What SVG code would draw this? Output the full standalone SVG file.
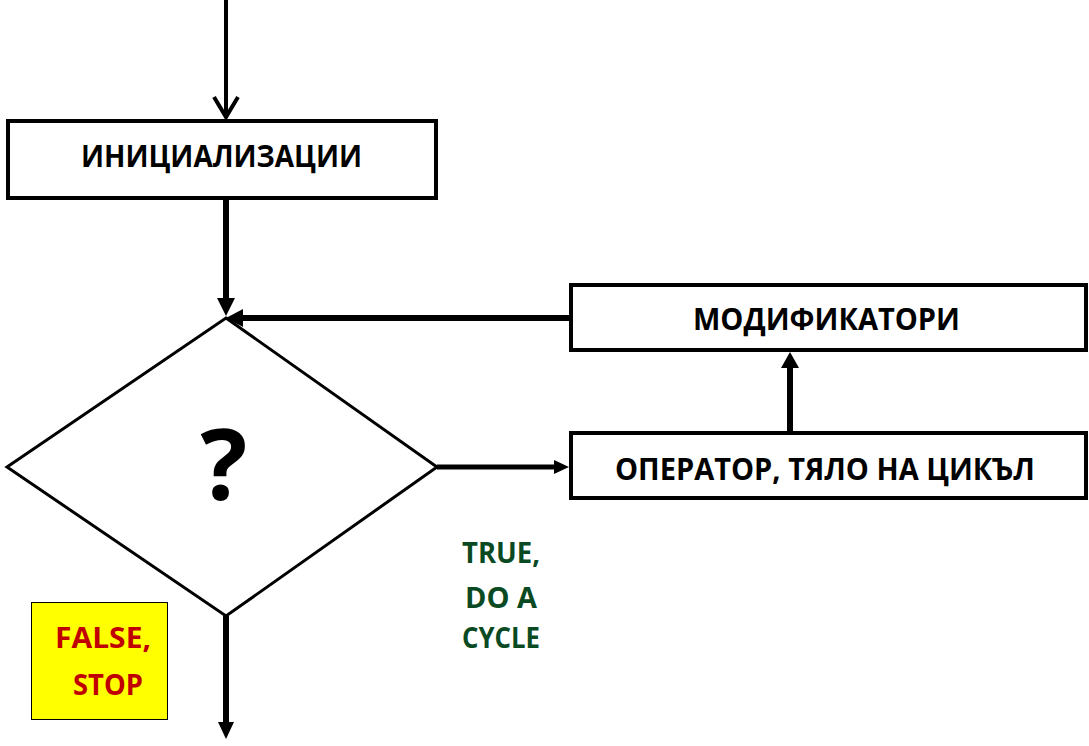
<svg xmlns="http://www.w3.org/2000/svg" width="1089" height="746" viewBox="0 0 1089 746">
<style>
.box{fill:#fff;stroke:#000;stroke-width:4}
.lbl{font-family:"Open Sans","Liberation Sans",sans-serif;font-weight:bold;font-size:30px;fill:#000}
.cond{font-family:"Open Sans","Liberation Sans",sans-serif;font-weight:bold;font-size:28px}
.ln{stroke:#000;fill:none}
.ah{fill:#000;stroke:none}
</style>
<rect width="1089" height="746" fill="#fff"/>
<g id="connectors">
<line class="ln" x1="226" y1="0" x2="226" y2="116" stroke-width="4"/>
<polyline class="ln" points="214,97 226,117 238,97" stroke-width="4"/>
<line class="ln" x1="226" y1="200" x2="226" y2="300" stroke-width="6"/>
<polygon class="ah" points="217,298 235,298 226,316"/>
<line class="ln" x1="569" y1="318" x2="241" y2="318" stroke-width="6"/>
<polygon class="ah" points="243,309 243,327 226,318"/>
<line class="ln" x1="437" y1="467" x2="556" y2="467" stroke-width="5"/>
<polygon class="ah" points="554,460 554,474 569,467"/>
<line class="ln" x1="790" y1="431" x2="790" y2="366" stroke-width="6"/>
<polygon class="ah" points="781,368 799,368 790,352"/>
<line class="ln" x1="226" y1="616" x2="226" y2="724" stroke-width="6"/>
<polygon class="ah" points="218,722 234,722 226,739"/>
</g>
<g id="init">
<rect class="box" x="8" y="121" width="428" height="77"/>
<text class="lbl" x="81" y="167" textLength="281" lengthAdjust="spacingAndGlyphs">ИНИЦИАЛИЗАЦИИ</text>
</g>
<g id="decision">
<polygon points="226,318 437,467 226,616 7,467" fill="#fff" stroke="#000" stroke-width="3"/>
<text x="224" y="500" text-anchor="middle" font-family="Open Sans, Liberation Sans, sans-serif" font-weight="bold" font-size="98">?</text>
</g>
<g id="modifiers">
<rect class="box" x="571" y="285" width="515" height="65"/>
<text class="lbl" x="693" y="330" textLength="267" lengthAdjust="spacingAndGlyphs">МОДИФИКАТОРИ</text>
</g>
<g id="body">
<rect class="box" x="571" y="433" width="515" height="65"/>
<text class="lbl" x="615" y="480" textLength="420" lengthAdjust="spacingAndGlyphs">ОПЕРАТОР, ТЯЛО НА ЦИКЪЛ</text>
</g>
<g id="true-label" class="cond" fill="#0a4a22">
<text x="462" y="563" textLength="78" lengthAdjust="spacingAndGlyphs">TRUE,</text>
<text x="465" y="608" textLength="72" lengthAdjust="spacingAndGlyphs">DO A</text>
<text x="462" y="648" textLength="78" lengthAdjust="spacingAndGlyphs">CYCLE</text>
</g>
<g id="false-label">
<rect x="31.5" y="602.5" width="136" height="117" fill="#ffff00" stroke="#000" stroke-width="1"/>
<text class="cond" fill="#c00000" x="55" y="648" textLength="96" lengthAdjust="spacingAndGlyphs">FALSE,</text>
<text class="cond" fill="#c00000" x="73" y="695" textLength="70" lengthAdjust="spacingAndGlyphs">STOP</text>
</g>
</svg>
